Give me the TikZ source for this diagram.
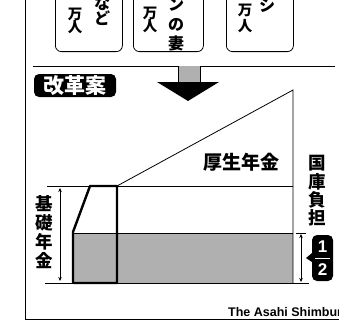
\documentclass[tikz,border=0pt]{standalone}
\usepackage{fontspec}
\newfontfamily\jp{Noto Sans CJK JP}
\setsansfont{Liberation Sans}
\usetikzlibrary{arrows.meta}
\begin{document}
\begin{tikzpicture}[x=1pt,y=-1pt,
  box/.style={draw,line width=0.8pt,rounded corners=6pt,minimum width=67pt,minimum height=70pt,anchor=south west,inner sep=0pt},
  ch/.style={inner sep=0pt,font=\jp\bfseries\fontsize{14.5}{14.5}\selectfont},
  chb/.style={inner sep=0pt,font=\jp\bfseries\fontsize{16}{16}\selectfont},
  lab/.style={inner sep=0pt,font=\jp\bfseries\fontsize{17.5}{17.5}\selectfont},
  thin/.style={line width=0.8pt},
  thick2/.style={line width=2.4pt,line join=round},
  dim/.style={line width=0.7pt,{Stealth[length=4pt,width=3.5pt]}-{Stealth[length=4pt,width=3.5pt]}},
  stip/.style={fill=gray!62}
]
\useasboundingbox (0,0) rectangle (339,321);
\clip (0,0) rectangle (339,321);
% frame
\draw[thin] (25,0) coordinate (fa) -- (25,319) coordinate (fb) -- (339,319) coordinate (fc);
% top boxes
\node[box] (b1) at (55,52) {};
\node[box,minimum width=70pt] (b2) at (133,52) {};
\node[box] (b3) at (226,52) {};
\node[ch] (b1a) at (75,14) {万};
\node[ch] (b1b) at (75,27.5) {人};
\node[chb] (b1c) at (102,3) {な};
\node[chb] (b1d) at (102,18.5) {ど};
\node[ch] (b2a) at (150,13) {万};
\node[ch] (b2b) at (150,26.5) {人};
\node[chb] (b2c) at (176,5) {ン};
\node[chb] (b2d) at (176,25) {の};
\node[chb] (b2e) at (176,43.5) {妻};
\node[ch] (b3a) at (245,10) {万};
\node[ch] (b3b) at (245,26.5) {人};
\node[chb] (b3c) at (267,6) {シ};
% separator line and arrow
\coordinate (l1) at (33,66); \coordinate (l2) at (178,66);
\coordinate (l3) at (200,66); \coordinate (l4) at (335,66);
\draw[thin] (l1) -- (l2); \draw[thin] (l3) -- (l4);
\fill[stip] (178,66) rectangle (200,83);
\draw[thin] (178,66) -- (178,83) (200,66) -- (200,83);
\fill (157,82) -- (219,82) -- (188,101) -- cycle;
% label
\node[fill=black,rounded corners=5pt,minimum width=82pt,minimum height=23pt,inner sep=0pt,
      text=white,font=\jp\bfseries\fontsize{21}{21}\selectfont] (kai) at (75,85.5) {改革案};
% chart
\fill[stip] (73,233) rectangle (293,283);
\draw[line width=0.5pt] (73,233) -- (293,233);
\coordinate (d1) at (117,186); \coordinate (d2) at (293,90);
\draw[thin] (d1) -- (d2) -- (293,283);
\draw[thin] (47,186) -- (293,186);
\draw[thin] (45,283) -- (309,283);
\draw[thick2] (73,283) -- (73,232) -- (90,186) -- (117,186) -- (117,283) -- cycle;
% left dimension
\draw[dim] (60,188) -- (60,281);
\node[lab] (k1) at (44,203.5) {基};
\node[lab] (k2) at (44,222.5) {礎};
\node[lab] (k3) at (44,241.5) {年};
\node[lab] (k4) at (44,260.5) {金};
% kosei
\node[inner sep=0pt,font=\jp\bfseries\fontsize{19}{19}\selectfont] (kosei) at (241.5,162.5) {厚生年金};
% kokko
\node[lab] (g1) at (317,163.5) {国};
\node[lab] (g2) at (317,181.5) {庫};
\node[lab] (g3) at (317,199.5) {負};
\node[lab] (g4) at (317,217.5) {担};
% right dimension
\draw[thin] (296,233.5) -- (306,233.5);
\draw[dim] (301,234) -- (301,282);
% half badge
\fill (312,253) -- (306,258) -- (312,262) -- cycle;
\node[fill=black,rounded corners=5pt,minimum width=21pt,minimum height=46pt,inner sep=0pt] (half) at (322.5,258) {};
\node[text=white,inner sep=0pt,font=\sffamily\bfseries\fontsize{17}{17}\selectfont] (one) at (322.5,246.5) {1};
\node[text=white,inner sep=0pt,font=\sffamily\bfseries\fontsize{17}{17}\selectfont] (two) at (322.5,270) {2};
\draw[white,line width=1pt] (315,258.5) -- (330,258.5);
% credit
\node[anchor=base west,inner sep=0pt,font=\sffamily\bfseries\fontsize{12.5}{12.5}\selectfont] (cr) at (228,316) {The Asahi Shimbun};
\end{tikzpicture}
\end{document}
